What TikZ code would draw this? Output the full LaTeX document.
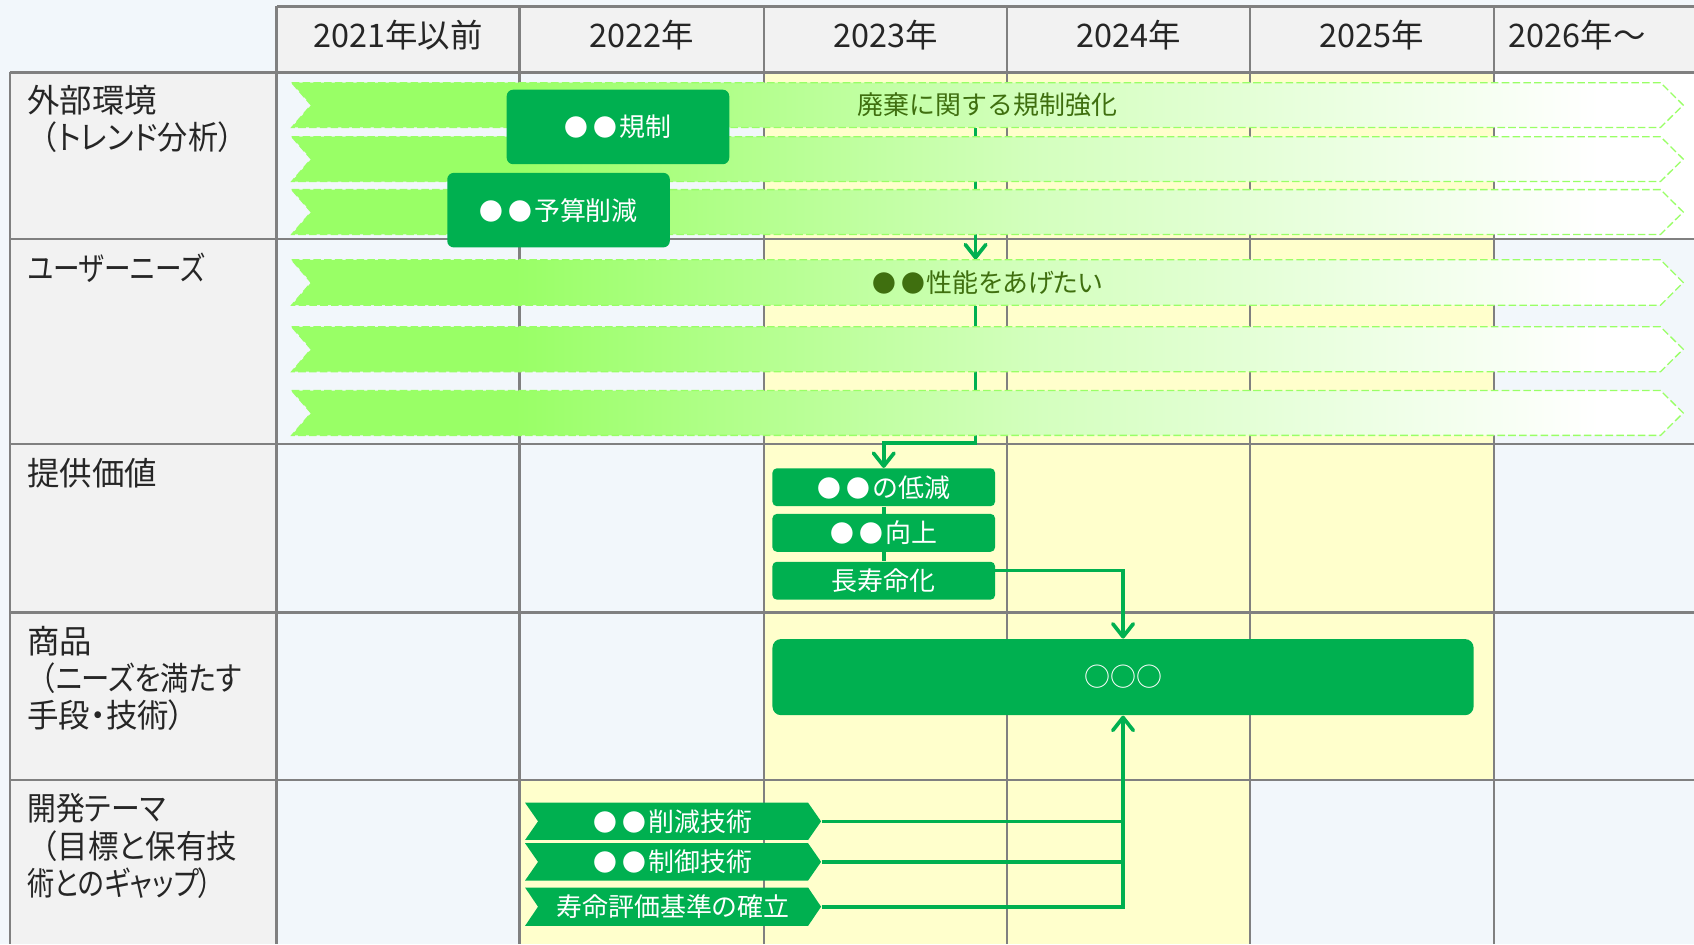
\documentclass[tikz,border=0pt]{standalone}
\usepackage{fontspec}
\usepackage{graphicx}
\setmainfont{Noto Sans CJK JP}
\newfontfamily\pjp{Noto Sans CJK JP}[RawFeature=+palt]
\usetikzlibrary{calc,arrows.meta}
\definecolor{bgc}{HTML}{F2F7FB}
\definecolor{hdr}{HTML}{F2F2F2}
\definecolor{yel}{HTML}{FFFFCC}
\definecolor{gridc}{HTML}{808080}
\definecolor{gr}{HTML}{00B050}
\definecolor{rg}{HTML}{99FF66}
\definecolor{dg}{HTML}{3F6F0F}
\definecolor{txt}{HTML}{262626}
\colorlet{rgmid}{rg!42!white}
\pgfdeclarelayer{bg}
\pgfdeclarelayer{conn}
\pgfdeclarelayer{shapes}
\pgfsetlayers{bg,conn,shapes,main}
\pgfdeclarehorizontalshading{ribbonshade}{100bp}{color(0bp)=(rg); color(25bp)=(rg); color(33bp)=(rg); color(52bp)=(rgmid); color(72bp)=(white); color(100bp)=(white)}
\newcommand\bdots{{\fontsize{11pt}{13pt}\selectfont●\hspace{0.22em}●}\hspace{0.08em}}
\newcommand\rib[4]{%
  \begin{pgfonlayer}{shapes}
    \path[ribbon] (270,#2) -- (1537,#2) -- (1558,{(#2+#3)/2}) -- (1537,#3) -- (270,#3) -- (288,{(#2+#3)/2}) -- cycle;
  \end{pgfonlayer}
  \node[rtext, minimum width=644pt, minimum height={(#3-#2)*0.5pt}] (#1) at (914,{(#2+#3)/2}) {#4};
}
\newcommand\devc[4]{%
  \begin{pgfonlayer}{shapes}
    \path[fill=gr] (486,#2) -- (748,#2) -- (760,{(#2+#3)/2}) -- (748,#3) -- (486,#3) -- (498,{(#2+#3)/2}) -- cycle;
  \end{pgfonlayer}
  \node[dtext, minimum width=137pt, minimum height={(#3-#2)*0.5pt}] (#1) at (623,{(#2+#3)/2}) {#4};
}
\tikzset{
  gridline/.style={draw=gridc, line width=1.1pt},
  ribbon/.style={shading=ribbonshade, draw=rg, line width=0.6pt, dash pattern=on 3.5pt off 1.5pt},
  rtext/.style={inner sep=0pt, text=dg, font=\fontsize{12pt}{14pt}\selectfont},
  dtext/.style={inner sep=0pt, text=white, font=\fontsize{12pt}{14pt}\selectfont},
  gbox/.style={fill=gr, rounded corners=3pt, text=white, inner sep=0pt, font=\fontsize{12pt}{14pt}\selectfont},
  vbox/.style={gbox, rounded corners=2pt, minimum width=103pt, minimum height=17.5pt},
  lab/.style={anchor=base west, inner sep=0pt, text=txt, font=\pjp\fontsize{15pt}{17pt}\selectfont},
  hdrtext/.style={anchor=base, inner sep=0pt, text=txt, font=\fontsize{15pt}{17pt}\selectfont},
  conn/.style={draw=gr, line width=1.7pt},
  conna/.style={conn, -{Straight Barb[length=6pt,width=9.5pt,line cap=round,line join=round]}},
}
\begin{document}
\begin{tikzpicture}[x=0.5pt,y=-0.5pt]
\useasboundingbox (0,0) rectangle (1568,874);
\begin{pgfonlayer}{bg}
  \fill[bgc] (0,0) rectangle (1568,874);
  \fill[hdr] (256,6) rectangle (1568,67);
  \fill[hdr] (9,67) rectangle (256,874);
  \fill[yel] (707,67) rectangle (1383,722);
  \fill[yel] (481,722) rectangle (1157,874);
  \fill[white] (1383,67) rectangle (1568,221);
  \draw[gridline] (256,6) -- (1568,6);
  \foreach \yy in {67,221,411,567,722} \draw[gridline] (9,\yy) -- (1568,\yy);
  \draw[gridline] (9,67) -- (9,874);
  \foreach \xx in {256,481,707,932,1157,1383} \draw[gridline] (\xx,6) -- (\xx,874);
\end{pgfonlayer}

% headers
\node[hdrtext] (h21) at (368.5,43.5) {2021年以前};
\node[hdrtext] (h22) at (594,43.5) {2022年};
\node[hdrtext] (h23) at (819.5,43.5) {2023年};
\node[hdrtext] (h24) at (1044.5,43.5) {2024年};
\node[hdrtext] (h25) at (1270,43.5) {2025年};
\node[hdrtext] (h26) at (1460,43.5) {2026年～};

% row labels
\node[lab] (l1a) at (25,104.5) {外部環境};
\node[lab] (l1b) at (25,138.5) {\scalebox{0.93}[1]{{\rmfamily （}トレンド分析）}};
\node[lab] (l2a) at (25,259.5) {\scalebox{0.82}[1]{ユーザーニーズ}};
\node[lab] (l3a) at (25,449.5) {提供価値};
\node[lab] (l4a) at (25,604.5) {商品};
\node[lab] (l4b) at (25,639.5) {\scalebox{0.875}[1]{{\rmfamily （}ニーズを満たす}};
\node[lab] (l4c) at (25,673.5) {\scalebox{0.97}[1]{手段・技術）}};
\node[lab] (l5a) at (25,759.5) {\scalebox{0.89}[1]{開発テーマ}};
\node[lab] (l5b) at (25,794.5) {\scalebox{0.94}[1]{{\rmfamily （}目標と保有技}};
\node[lab] (l5c) at (25,828.5) {\scalebox{0.84}[1]{術とのギャップ）}};

% ribbons
\rib{env1}{76.5}{118}{廃棄に関する規制強化}
\rib{env2}{126.5}{168}{}
\rib{env3}{175.5}{217}{}
\rib{need1}{240.5}{282.5}{\bdots{\pjp 性能をあげたい}}
\rib{need2}{302.5}{344}{}
\rib{need3}{361.5}{403}{}

% green boxes
\node[gbox, minimum width=103pt, minimum height=34.5pt] (reg) at (572,117.5) {\bdots 規制};
\node[gbox, minimum width=103pt, minimum height=34.5pt] (bud) at (517,194.5) {\bdots 予算削減};
\node[vbox] (val1) at (818,451) {\bdots の低減};
\node[vbox] (val2) at (818,493.2) {\bdots 向上};
\node[vbox] (val3) at (818,537.5) {長寿命化};
\node[gbox, rounded corners=4pt, minimum width=324.5pt, minimum height=35.25pt] (prod) at (1039.5,626.75) {○○○};

% development themes
\devc{dev1}{743}{777.5}{\bdots 削減技術}
\devc{dev2}{780.5}{815}{\bdots 制御技術}
\devc{dev3}{821.5}{857}{寿命評価基準の確立}

% connectors
\begin{pgfonlayer}{conn}
  \draw[conna] ($(env1.south)+(-11,0)$) -- ($(need1.north)+(-11,0)$);
  \draw[conna] ($(need1.south)+(-11,0)$) |- ($(val1.north)+(0,-23)$) -- (val1.north);
  \draw[conn] (val1.south) -- (val3.north);
  \draw[conna] ($(val3.north east)+(0,8.5)$) -| (prod.north);
  \draw[conna] (dev3.east) -| (prod.south);
  \draw[conn] (dev1.east) -- (dev1.east -| prod.south);
  \draw[conn] (dev2.east) -- (dev2.east -| prod.south);
\end{pgfonlayer}
\end{tikzpicture}
\end{document}
